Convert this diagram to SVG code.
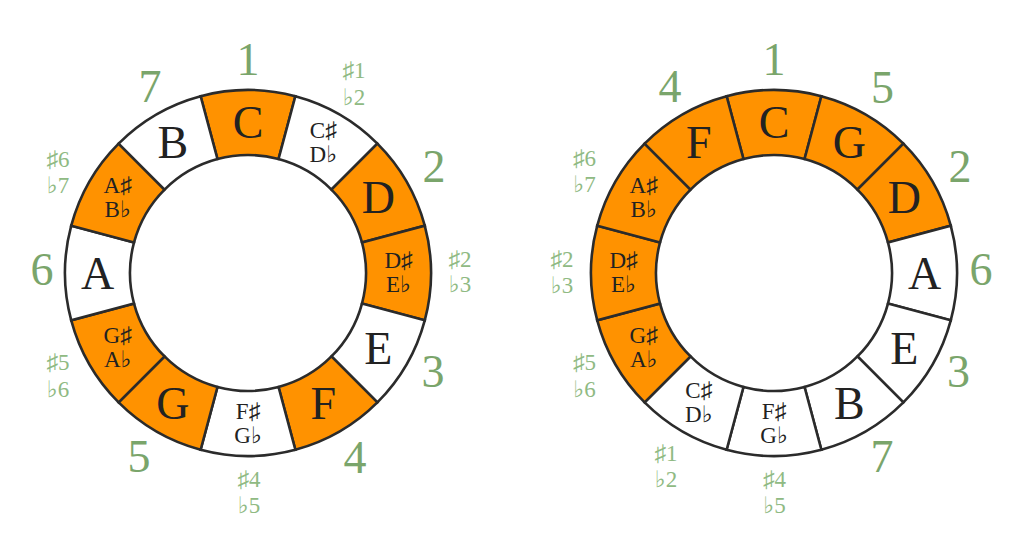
<svg xmlns="http://www.w3.org/2000/svg" xmlns:xlink="http://www.w3.org/1999/xlink" width="1024" height="552" viewBox="0 0 1024 552">
<style>
.seg{stroke:#2b2b2b;stroke-width:2.6;stroke-linejoin:miter}
.on{fill:#ff9200}
.off{fill:#ffffff}
.big{font-family:"Liberation Serif","DejaVu Serif",serif;font-size:46px;fill:#222;text-anchor:middle}
.sm{font-family:"Liberation Serif","DejaVu Serif",serif;font-size:23px;fill:#222;text-anchor:middle}
.num{font-family:"Liberation Serif","DejaVu Serif",serif;font-size:46px;fill:#7aa56b;text-anchor:middle}
.acc{font-family:"Liberation Serif","DejaVu Serif",serif;font-size:23px;fill:#8fba83;text-anchor:middle}
</style>
<defs>
<path id="seg" d="M -47.364 -176.764 A 183 183 0 0 1 47.364 -176.764 L 30.541 -113.979 A 118 118 0 0 0 -30.541 -113.979 Z"/>
</defs>
<rect width="1024" height="552" fill="#ffffff"/>
<g id="connectors"/>
<g id="left-ring">
<g id="L-C"><use xlink:href="#seg" href="#seg" class="seg on" transform="translate(248 273) rotate(0)"/><text class="big" x="248" y="138">C</text></g>
<g id="L-Cs"><use xlink:href="#seg" href="#seg" class="seg off" transform="translate(248 273) rotate(30)"/><text class="sm" x="323.25" y="137.66">C♯</text><text class="sm" x="323.25" y="161.66">D♭</text></g>
<g id="L-D"><use xlink:href="#seg" href="#seg" class="seg on" transform="translate(248 273) rotate(60)"/><text class="big" x="378.34" y="213.25">D</text></g>
<g id="L-Ds"><use xlink:href="#seg" href="#seg" class="seg on" transform="translate(248 273) rotate(90)"/><text class="sm" x="398.5" y="268">D♯</text><text class="sm" x="398.5" y="292">E♭</text></g>
<g id="L-E"><use xlink:href="#seg" href="#seg" class="seg off" transform="translate(248 273) rotate(120)"/><text class="big" x="378.34" y="363.75">E</text></g>
<g id="L-F"><use xlink:href="#seg" href="#seg" class="seg on" transform="translate(248 273) rotate(150)"/><text class="big" x="323.25" y="418.84">F</text></g>
<g id="L-Fs"><use xlink:href="#seg" href="#seg" class="seg off" transform="translate(248 273) rotate(180)"/><text class="sm" x="248" y="418.5">F♯</text><text class="sm" x="248" y="442.5">G♭</text></g>
<g id="L-G"><use xlink:href="#seg" href="#seg" class="seg on" transform="translate(248 273) rotate(210)"/><text class="big" x="172.75" y="418.84">G</text></g>
<g id="L-Gs"><use xlink:href="#seg" href="#seg" class="seg on" transform="translate(248 273) rotate(240)"/><text class="sm" x="117.66" y="343.25">G♯</text><text class="sm" x="117.66" y="367.25">A♭</text></g>
<g id="L-A"><use xlink:href="#seg" href="#seg" class="seg off" transform="translate(248 273) rotate(270)"/><text class="big" x="97.5" y="288.5">A</text></g>
<g id="L-As"><use xlink:href="#seg" href="#seg" class="seg on" transform="translate(248 273) rotate(300)"/><text class="sm" x="117.66" y="192.75">A♯</text><text class="sm" x="117.66" y="216.75">B♭</text></g>
<g id="L-B"><use xlink:href="#seg" href="#seg" class="seg off" transform="translate(248 273) rotate(330)"/><text class="big" x="172.75" y="158.16">B</text></g>
</g>
<g id="left-degrees">
<text class="num" x="248" y="75">1</text>
<text class="acc" x="354" y="78">♯1</text><text class="acc" x="354" y="104.5">♭2</text>
<text class="num" x="434" y="181.5">2</text>
<text class="acc" x="460" y="267">♯2</text><text class="acc" x="460" y="292">♭3</text>
<text class="num" x="433" y="386.5">3</text>
<text class="num" x="355" y="473">4</text>
<text class="acc" x="249" y="487">♯4</text><text class="acc" x="249" y="512.5">♭5</text>
<text class="num" x="139" y="471.5">5</text>
<text class="acc" x="58" y="370">♯5</text><text class="acc" x="58" y="396.5">♭6</text>
<text class="num" x="42" y="285">6</text>
<text class="acc" x="58" y="166.5">♯6</text><text class="acc" x="58" y="192.5">♭7</text>
<text class="num" x="150" y="102">7</text>
</g>
<g id="right-ring">
<g id="R-C"><use xlink:href="#seg" href="#seg" class="seg on" transform="translate(774 273) rotate(0)"/><text class="big" x="774" y="138">C</text></g>
<g id="R-G"><use xlink:href="#seg" href="#seg" class="seg on" transform="translate(774 273) rotate(30)"/><text class="big" x="849.25" y="158.16">G</text></g>
<g id="R-D"><use xlink:href="#seg" href="#seg" class="seg on" transform="translate(774 273) rotate(60)"/><text class="big" x="904.34" y="213.25">D</text></g>
<g id="R-A"><use xlink:href="#seg" href="#seg" class="seg off" transform="translate(774 273) rotate(90)"/><text class="big" x="924.5" y="288.5">A</text></g>
<g id="R-E"><use xlink:href="#seg" href="#seg" class="seg off" transform="translate(774 273) rotate(120)"/><text class="big" x="904.34" y="363.75">E</text></g>
<g id="R-B"><use xlink:href="#seg" href="#seg" class="seg off" transform="translate(774 273) rotate(150)"/><text class="big" x="849.25" y="418.84">B</text></g>
<g id="R-Fs"><use xlink:href="#seg" href="#seg" class="seg off" transform="translate(774 273) rotate(180)"/><text class="sm" x="774" y="418.5">F♯</text><text class="sm" x="774" y="442.5">G♭</text></g>
<g id="R-Cs"><use xlink:href="#seg" href="#seg" class="seg off" transform="translate(774 273) rotate(210)"/><text class="sm" x="698.75" y="398.34">C♯</text><text class="sm" x="698.75" y="422.34">D♭</text></g>
<g id="R-Gs"><use xlink:href="#seg" href="#seg" class="seg on" transform="translate(774 273) rotate(240)"/><text class="sm" x="643.66" y="343.25">G♯</text><text class="sm" x="643.66" y="367.25">A♭</text></g>
<g id="R-Ds"><use xlink:href="#seg" href="#seg" class="seg on" transform="translate(774 273) rotate(270)"/><text class="sm" x="623.5" y="268">D♯</text><text class="sm" x="623.5" y="292">E♭</text></g>
<g id="R-As"><use xlink:href="#seg" href="#seg" class="seg on" transform="translate(774 273) rotate(300)"/><text class="sm" x="643.66" y="192.75">A♯</text><text class="sm" x="643.66" y="216.75">B♭</text></g>
<g id="R-F"><use xlink:href="#seg" href="#seg" class="seg on" transform="translate(774 273) rotate(330)"/><text class="big" x="698.75" y="158.16">F</text></g>
</g>
<g id="right-degrees">
<text class="num" x="774" y="75">1</text>
<text class="num" x="882.5" y="102.5">5</text>
<text class="num" x="960" y="181.5">2</text>
<text class="num" x="981" y="285">6</text>
<text class="num" x="958.5" y="386.5">3</text>
<text class="num" x="882" y="471.5">7</text>
<text class="acc" x="774.5" y="487">♯4</text><text class="acc" x="774.5" y="512.5">♭5</text>
<text class="acc" x="666" y="460.5">♯1</text><text class="acc" x="666" y="487">♭2</text>
<text class="acc" x="584.5" y="370">♯5</text><text class="acc" x="584.5" y="396.5">♭6</text>
<text class="acc" x="562" y="267">♯2</text><text class="acc" x="562" y="293">♭3</text>
<text class="acc" x="584.5" y="165.5">♯6</text><text class="acc" x="584.5" y="192">♭7</text>
<text class="num" x="670" y="101.5">4</text>
</g>
</svg>
